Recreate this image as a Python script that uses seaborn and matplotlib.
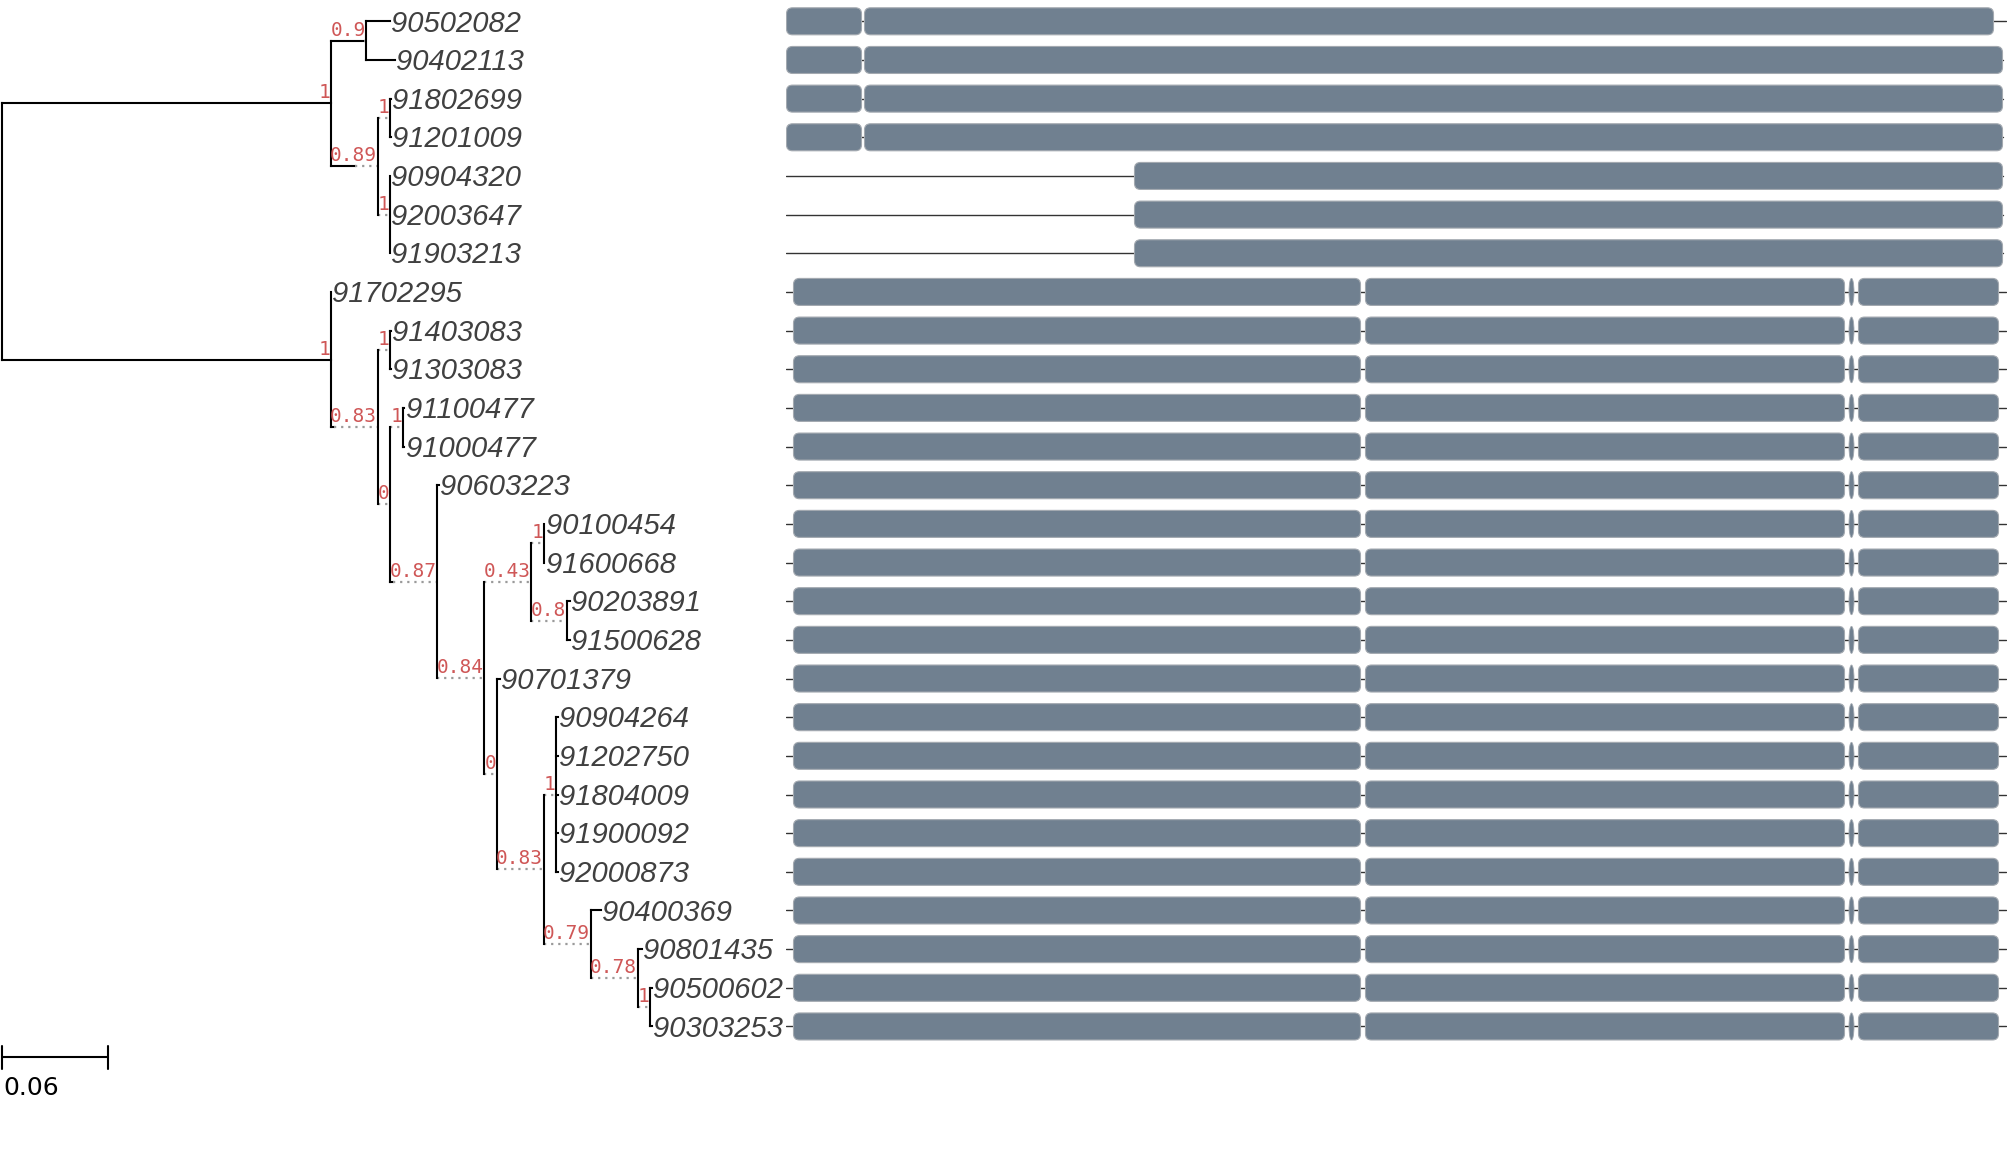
import pandas as pd
import seaborn as sns
import matplotlib.pyplot as plt
from matplotlib.patches import FancyBboxPatch, Ellipse

# ---- tree data -------------------------------------------------------------
# tips, top to bottom
tip_names = ["90502082", "90402113", "91802699", "91201009", "90904320",
             "92003647", "91903213", "91702295", "91403083", "91303083",
             "91100477", "91000477", "90603223", "90100454", "91600668",
             "90203891", "91500628", "90701379", "90904264", "91202750",
             "91804009", "91900092", "92000873", "90400369", "90801435",
             "90500602", "90303253"]
tip_parent = ["nA1", "nA1", "nA2a", "nA2a", "nA2b", "nA2b", "nA2b", "nB",
              "nB2a", "nB2a", "nB2b1", "nB2b1", "nB2b2", "nC1a", "nC1a",
              "nC1b", "nC1b", "nC2", "nD1", "nD1", "nD1", "nD1", "nD1",
              "nE", "nF", "nG", "nG"]
tip_length = [0.0135, 0.0163, 0.0005, 0.0005, 0.0, 0.0, 0.0, 0.0,
              0.0005, 0.0005, 0.001, 0.001, 0.001, 0.0005, 0.0005,
              0.002, 0.002, 0.002, 0.001, 0.001, 0.001, 0.001, 0.001,
              0.0056, 0.0022, 0.001, 0.001]

node_names = ["root", "nA", "nA1", "nA2", "nA2a", "nA2b", "nB", "nB2",
              "nB2a", "nB2b", "nB2b1", "nB2b2", "nC", "nC1", "nC1a", "nC1b",
              "nC2", "nD", "nD1", "nE", "nF", "nG"]
node_parent = [None, "root", "nA", "nA", "nA2", "nA2", "root", "nB",
               "nB2", "nB2", "nB2b", "nB2b", "nB2b2", "nC", "nC1", "nC1",
               "nC", "nC2", "nD", "nD", "nE", "nF"]
node_length = [0.0, 0.1852, 0.0188, 0.0135, 0.0, 0.0, 0.1852, 0.0017,
               0.0, 0.0, 0.0, 0.0017, 0.0, 0.0, 0.0, 0.0,
               0.0, 0.0, 0.0, 0.0, 0.0, 0.0]
node_support = ["", "1", "0.9", "0.89", "1", "1", "1", "0.83",
                "1", "0", "1", "0.87", "0.84", "0.43", "1", "0.8",
                "0", "0.83", "1", "0.79", "0.78", "1"]

scale_value = 0.06

# ---- motif faces (residue coordinates) ------------------------------------
motif_a_row0 = [(0, 76), (78, 1208)]
motif_a = [(0, 76), (78, 1217)]
motif_partial = [(348, 1217)]
motif_b = [(7, 575), (579, 1059), (1072, 1213)]
motif_b_narrow = [(1063, 1068)]
seq_len = {"a0": 1220, "a": 1217, "p": 1217, "b": 1220}
row_motif = ["a0", "a", "a", "a", "p", "p", "p",
             "b", "b", "b", "b", "b", "b", "b", "b", "b", "b",
             "b", "b", "b", "b", "b", "b", "b", "b", "b", "b"]

# ---- layout ----------------------------------------------------------------
FIG_W, FIG_H = 2007, 1154
PX_PER_UNIT = 1777.0
ROOT_PX = 1.5
FACE_PX = 786.0
ROW0_PX, ROW_PX = 21.3, 38.66
SUPPORT_CHAR_PX = 11.5   # width the support face reserves per character

sns.set_theme(style="white")
plt.rcParams["font.family"] = ["DejaVu Sans"]

fig = plt.figure(figsize=(FIG_W / 100, FIG_H / 100), dpi=100)
ax = fig.add_axes([0, 0, FACE_PX / FIG_W, 1])
axf = fig.add_axes([FACE_PX / FIG_W, 0, (FIG_W - FACE_PX) / FIG_W, 1])
ylim = ((FIG_H - ROW0_PX) / ROW_PX, -ROW0_PX / ROW_PX)
ax.set_xlim(-ROOT_PX / PX_PER_UNIT, (FACE_PX - ROOT_PX) / PX_PER_UNIT)
ax.set_ylim(*ylim)
ax.axis("off")

px = 1.0 / PX_PER_UNIT      # one pixel in tree units
prow = 1.0 / ROW_PX         # one pixel in row units

support_font = dict(family="DejaVu Sans Mono", size=14, color="#cf5757")
tip_font = dict(family="Liberation Sans", style="italic", size=21,
                color="#404040")


def face_width(s):
    if not s:
        return 0.0
    return (len(s) * SUPPORT_CHAR_PX + 1.0) * px


children = {n: [] for n in node_names}
for n, p in zip(node_names, node_parent):
    if p:
        children[p].append(("node", n))
for i, p in enumerate(tip_parent):
    children[p].append(("tip", i))
nlen = dict(zip(node_names, node_length))
nsup = dict(zip(node_names, node_support))

ypos = {}


def get_y(kind, key):
    if kind == "tip":
        return float(key)
    ys = [get_y(k, c) for k, c in children[key]]
    ypos[key] = (min(ys) + max(ys)) / 2
    return ypos[key]


get_y("node", "root")

xpos = {"root": 0.0}
solid_kw = dict(color="black", lw=1.5, solid_capstyle="projecting")
dot_kw = dict(color="#9a9a9a", lw=1.6, ls=(0, (1, 2.2)))


def draw(node):
    x0 = xpos[node]
    ys = []
    for kind, c in children[node]:
        if kind == "tip":
            y = float(c)
            x1 = x0 + tip_length[c]
            if x1 > x0:
                ax.plot([x0, x1], [y, y], **solid_kw)
            ax.text(x1 + 1.2 * px, y + 10.2 * prow, tip_names[c],
                    ha="left", va="baseline", **tip_font)
        else:
            y = ypos[c]
            bl = nlen[c]
            xpos[c] = x0 + max(bl, face_width(nsup[c]))
            if bl > 0:
                ax.plot([x0, x0 + bl], [y, y], **solid_kw)
            if xpos[c] > x0 + bl:
                ax.plot([x0 + bl, xpos[c]], [y, y], **dot_kw)
            ax.text(xpos[c] - 0.5 * px, y - 5 * prow, nsup[c], ha="right",
                    va="baseline", **support_font)
            draw(c)
        ys.append(y)
    ax.plot([x0, x0], [min(ys), max(ys)], **solid_kw)


draw("root")

# scale bar
yb = len(tip_names) - 1 + 0.8
ax.plot([0, scale_value], [yb, yb], color="black", lw=1.5)
for xb in (0, scale_value):
    ax.plot([xb, xb], [yb - 0.29, yb + 0.29], color="black", lw=1.5)
ax.text(1.5 * px, yb + 0.96, f"{scale_value:g}", ha="left", va="baseline",
        fontsize=18, color="black", family="DejaVu Sans")

# ---- motif faces ------------------------------------------------------------
seq_df = pd.DataFrame(
    [(i, 0) for i in range(len(row_motif))]
    + [(i, seq_len[m]) for i, m in enumerate(row_motif)],
    columns=["row", "pos"])
sns.lineplot(data=seq_df, x="pos", y="row", units="row", estimator=None,
             sort=False, color="#333333", lw=1.0, legend=False, ax=axf)
axf.set_xlim(0, FIG_W - FACE_PX)
axf.set_ylim(*ylim)
axf.axis("off")

boxes_for = {"a0": motif_a_row0, "a": motif_a, "p": motif_partial,
             "b": motif_b}
bar_h = 27 * prow
for i, m in enumerate(row_motif):
    for s, e in boxes_for[m]:
        axf.add_patch(FancyBboxPatch(
            (s + 0.5, i - bar_h / 2), e - s - 1, bar_h,
            boxstyle="round,pad=0,rounding_size=6", mutation_aspect=prow,
            facecolor="#708090", edgecolor="#a3a9b0", lw=0.8, zorder=3))
    if m == "b":
        for s, e in motif_b_narrow:
            axf.add_patch(Ellipse(((s + e) / 2, i), e - s, bar_h,
                                  facecolor="#708090", edgecolor="#a3a9b0",
                                  lw=0.6, zorder=3))

fig.savefig("out.png", dpi=100, facecolor="white")
